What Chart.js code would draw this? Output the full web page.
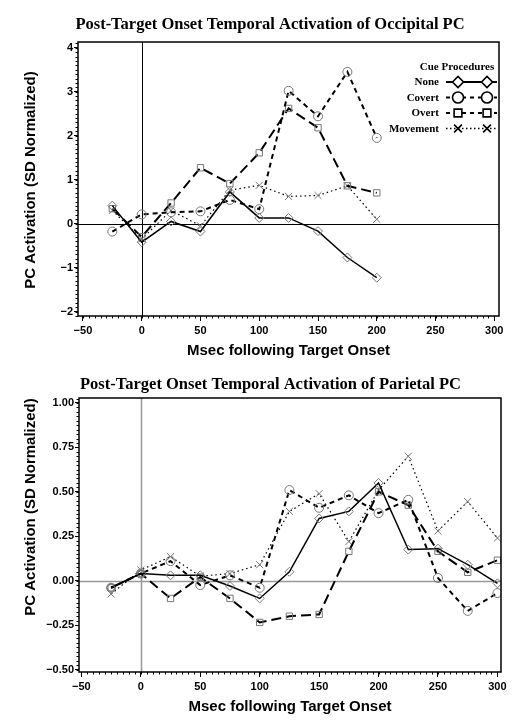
<!DOCTYPE html>
<html><head><meta charset="utf-8">
<script src="https://cdn.jsdelivr.net/npm/chart.js@4.4.1/dist/chart.umd.min.js"></script>
<style>
html,body{margin:0;padding:0;background:#fff;}
#wrap{width:520px;height:723px;position:relative;overflow:hidden;}
canvas{position:absolute;left:0;}
</style></head><body>
<div id="wrap">
<canvas id="c1" width="520" height="362" style="top:0;width:520px;height:362px"></canvas>
<canvas id="c2" width="520" height="361" style="top:362px;width:520px;height:361px"></canvas>
</div>
<script>
// ---------- data ----------
const seriesNames = ['None', 'Covert', 'Overt', 'Movement'];
const legendTitle = 'Cue Procedures';
const xAxisTitle = 'Msec following Target Onset';
const yAxisTitle = 'PC Activation (SD Normalized)';

// Occipital PC (top)
const occTitle = 'Post-Target Onset Temporal Activation of Occipital PC';
const occMsec = [-25, 0, 25, 50, 75, 100, 125, 150, 175, 200];
const occNone = [0.41, -0.42, 0.05, -0.18, 0.72, 0.13, 0.13, -0.17, -0.77, -1.23];
const occCovert = [-0.18, 0.21, 0.26, 0.28, 0.54, 0.33, 3.02, 2.44, 3.45, 1.95];
const occOvert = [0.34, -0.30, 0.47, 1.27, 0.91, 1.61, 2.62, 2.18, 0.86, 0.70];
const occMovement = [0.30, -0.35, 0.30, -0.05, 0.76, 0.87, 0.62, 0.64, 0.86, 0.10];
const occYTicks = [-2, -1, 0, 1, 2, 3, 4];

// Parietal PC (bottom)
const parTitle = 'Post-Target Onset Temporal Activation of Parietal PC';
const parMsec = [-25, 0, 25, 50, 75, 100, 125, 150, 175, 200, 225, 250, 275, 300];
const parNone = [-0.04, 0.04, 0.03, 0.03, -0.03, -0.10, 0.05, 0.35, 0.39, 0.55, 0.175, 0.18, 0.09, -0.015];
const parCovert = [-0.04, 0.04, 0.11, -0.025, 0.03, -0.04, 0.51, 0.41, 0.48, 0.38, 0.455, 0.015, -0.17, -0.07];
const parOvert = [-0.04, 0.04, -0.10, 0.02, -0.10, -0.235, -0.20, -0.19, 0.165, 0.50, 0.425, 0.165, 0.047, 0.115];
const parMovement = [-0.075, 0.06, 0.135, 0.025, 0.04, 0.09, 0.39, 0.49, 0.22, 0.51, 0.70, 0.28, 0.445, 0.24];
const parYTicks = [-0.5, -0.25, 0, 0.25, 0.5, 0.75, 1.0];

const xTicks = [-50, 0, 50, 100, 150, 200, 250, 300];

// ---------- styles ----------
const styles = [
  {pointStyle: 'rectRot', dash: [], width: 1.5},
  {pointStyle: 'circle', dash: [5, 4], width: 2},
  {pointStyle: 'rect', dash: [10, 5], width: 2},
  {pointStyle: 'crossRot', dash: [1.5, 3], width: 1.2}
];
const SANS = '"Liberation Sans", Arial, sans-serif';
const SERIF = '"Liberation Serif", "Times New Roman", serif';

function fmtNum(v, dec) {
  const s = Math.abs(v).toFixed(dec);
  return (v < 0 ? '\u2212' : '') + s;
}

function makeDatasets(xs, arrs) {
  return arrs.map((arr, k) => ({
    label: seriesNames[k],
    data: xs.map((x, i) => ({x: x, y: arr[i]})),
    borderColor: '#000',
    borderWidth: styles[k].width,
    borderDash: styles[k].dash,
    pointStyle: styles[k].pointStyle,
    pointRadius: k === 3 ? 5 : 4.5,
    pointBorderColor: '#777',
    pointBorderWidth: 1,
    pointBackgroundColor: 'rgba(0,0,0,0)',
    tension: 0,
    fill: false
  }));
}

const decorPlugin = {
  id: 'decor',
  beforeDatasetsDraw(chart, args, o) {
    const ctx = chart.ctx, a = chart.chartArea;
    const xs = chart.scales.x, ys = chart.scales.y;
    ctx.save();
    ctx.strokeStyle = o.refColor; ctx.lineWidth = o.refWidth;
    const x0 = Math.round(xs.getPixelForValue(0)) + 0.5;
    const y0 = Math.round(ys.getPixelForValue(0)) + 0.5;
    ctx.beginPath(); ctx.moveTo(x0, a.top); ctx.lineTo(x0, a.bottom); ctx.stroke();
    ctx.beginPath(); ctx.moveTo(a.left, y0); ctx.lineTo(a.right, y0); ctx.stroke();
    ctx.restore();
  },
  afterDraw(chart, args, o) {
    const ctx = chart.ctx, a = chart.chartArea;
    const xs = chart.scales.x, ys = chart.scales.y;
    ctx.save();
    // frame
    ctx.strokeStyle = '#000'; ctx.lineWidth = 1.5;
    ctx.strokeRect(a.left, a.top, a.right - a.left, a.bottom - a.top);
    // minor ticks
    ctx.lineWidth = 1;
    ctx.beginPath();
    const xStart = Math.ceil(xs.min / o.xMinor);
    const xEnd = Math.floor(xs.max / o.xMinor);
    for (let i = xStart; i <= xEnd; i++) {
      const px = Math.round(xs.getPixelForValue(i * o.xMinor)) + 0.5;
      ctx.moveTo(px, a.bottom); ctx.lineTo(px, a.bottom + 2.5);
    }
    const yStart = Math.ceil(ys.min / o.yMinor);
    const yEnd = Math.floor(ys.max / o.yMinor);
    for (let i = yStart; i <= yEnd; i++) {
      const py = Math.round(ys.getPixelForValue(i * o.yMinor)) + 0.5;
      ctx.moveTo(a.left, py); ctx.lineTo(a.left - 2.5, py);
    }
    ctx.stroke();
    // titles
    ctx.fillStyle = '#000';
    ctx.textAlign = 'center'; ctx.textBaseline = 'middle';
    ctx.font = 'bold 16.5px ' + SERIF;
    ctx.fillText(o.title, o.titleX, o.titleY);
    ctx.font = 'bold 15px ' + SANS;
    ctx.fillText(xAxisTitle, (a.left + a.right) / 2, o.xTitleY);
    ctx.save();
    ctx.translate(o.yTitleX, o.yTitleY);
    ctx.rotate(-Math.PI / 2);
    ctx.font = 'bold 15px ' + SANS;
    ctx.fillText(yAxisTitle, 0, 0);
    ctx.restore();
    // legend
    if (o.legend) {
      ctx.font = 'bold 11px ' + SERIF;
      ctx.textAlign = 'center';
      ctx.fillText(legendTitle, 457, 67);
      const rows = [82, 97.5, 113, 128.5];
      seriesNames.forEach((n, k) => {
        const y = rows[k];
        ctx.textAlign = 'right';
        ctx.fillStyle = '#000';
        ctx.fillText(n, 439, y + 0.5);
        ctx.save();
        ctx.strokeStyle = '#000';
        ctx.lineWidth = k === 3 ? 1.5 : 2;
        ctx.setLineDash(k === 0 ? [] : (k === 3 ? [1.5, 2.5] : [4, 4]));
        ctx.beginPath(); ctx.moveTo(446, y); ctx.lineTo(497, y); ctx.stroke();
        ctx.setLineDash([]);
        ctx.fillStyle = '#fff';
        ctx.lineWidth = 1.6;
        [458, 487].forEach(px => {
          Chart.helpers.drawPoint(ctx, {pointStyle: styles[k].pointStyle, radius: 5.5, rotation: 0, borderWidth: 1.6}, px, y);
        });
        ctx.restore();
      });
    }
    ctx.restore();
  }
};

function makeChart(id, cfg) {
  return new Chart(document.getElementById(id), {
    type: 'line',
    data: {datasets: makeDatasets(cfg.xs, cfg.series)},
    options: {
      responsive: false,
      animation: false,
      events: [],
      layout: {padding: {left: 0, top: cfg.padTop, right: cfg.padRight, bottom: 0}},
      scales: {
        x: {
          type: 'linear', min: cfg.xMin, max: cfg.xMax,
          afterBuildTicks: s => { s.ticks = xTicks.map(v => ({value: v})); },
          afterFit: s => { s.height = cfg.xHeight; },
          ticks: {callback: v => fmtNum(v, 0), font: {family: SANS, weight: 'bold', size: 11}, color: '#000', padding: 3, maxRotation: 0, autoSkip: false},
          grid: {display: true, drawOnChartArea: false, drawTicks: true, tickLength: 5, color: '#000', lineWidth: 1},
          border: {display: false}
        },
        y: {
          type: 'linear', min: cfg.yMin, max: cfg.yMax,
          afterBuildTicks: s => { s.ticks = cfg.yTicks.map(v => ({value: v})); },
          afterFit: s => { s.width = cfg.yWidth; },
          ticks: {callback: v => fmtNum(v, cfg.yDec), font: {family: SANS, weight: 'bold', size: 11}, color: '#000', padding: 1, autoSkip: false},
          grid: {display: true, drawOnChartArea: false, drawTicks: true, tickLength: 4, color: '#000', lineWidth: 1},
          border: {display: false}
        }
      },
      plugins: {
        legend: {display: false},
        tooltip: {enabled: false},
        decor: cfg.decor
      }
    },
    plugins: [decorPlugin]
  });
}

makeChart('c1', {
  xs: occMsec, series: [occNone, occCovert, occOvert, occMovement],
  xMin: -54.2, xMax: 304, yMin: -2.1, yMax: 4.13, yTicks: occYTicks, yDec: 0,
  padTop: 42, padRight: 21, xHeight: 46, yWidth: 78,
  decor: {title: occTitle, titleX: 270, titleY: 25, xTitleY: 350.5, yTitleX: 31, yTitleY: 180,
          refColor: '#000', refWidth: 1, xMinor: 5, yMinor: 0.1, legend: true}
});

makeChart('c2', {
  xs: parMsec, series: [parNone, parCovert, parOvert, parMovement],
  xMin: -52, xMax: 303, yMin: -0.514, yMax: 1.028, yTicks: parYTicks, yDec: 2,
  padTop: 36, padRight: 19, xHeight: 51, yWidth: 79,
  decor: {title: parTitle, titleX: 270.5, titleY: 23, xTitleY: 344.5, yTitleX: 31, yTitleY: 145,
          refColor: '#999', refWidth: 1.5, xMinor: 5, yMinor: 0.025, legend: false}
});
</script>
</body></html>
